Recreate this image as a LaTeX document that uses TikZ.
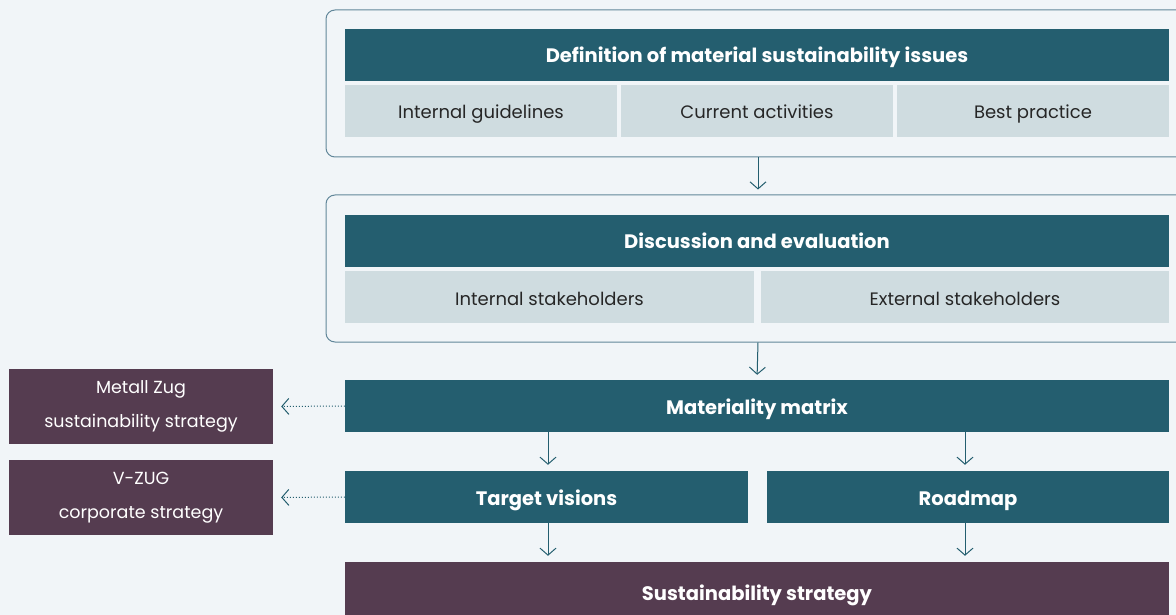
\documentclass[tikz,border=0pt]{standalone}
\usepackage{fontspec}
\setmainfont{Poppins}
\usetikzlibrary{arrows.meta}

\definecolor{bgpage}{HTML}{F1F5F8}
\definecolor{teal}{HTML}{245E6F}
\definecolor{cellgrey}{HTML}{CFDCE0}
\definecolor{plum}{HTML}{553C50}
\definecolor{framecol}{HTML}{62879A}

\begin{document}
\begin{tikzpicture}[x=1pt, y=-1pt,
  every node/.style={align=center, inner sep=0pt},
  headbox/.style={fill=teal, text=white, font=\fontsize{19.5}{23}\selectfont\bfseries, minimum height=52pt, text height=16pt, text depth=0pt},
  cellbox/.style={fill=cellgrey, text=black!85, font=\fontsize{18}{22}\selectfont, minimum height=52pt, text height=16pt, text depth=0pt},
  sidebox/.style={fill=plum, text=white, font=\fontsize{17.5}{34}\selectfont, minimum width=264pt, minimum height=75pt},
  framebox/.style={draw=framecol, line width=1pt, rounded corners=9pt, minimum width=864pt, minimum height=147pt},
  arr/.style={draw=teal, line width=1pt, -{Straight Barb[length=7pt, width=16pt]}},
  dotarr/.style={arr, dotted}]

  % --- Hintergrund ---
  \fill[bgpage] (0,0) rectangle (1176,615);
  \useasboundingbox (0,0) rectangle (1176,615);
  \clip (0,0) rectangle (1176,615);

  % --- Block 1: Definition ---
  \node[framebox] (frameA) at (758,83.5) {};
  \node[headbox, minimum width=824pt] (defhead) at (757,55) {Definition of material sustainability issues};
  \node[cellbox, minimum width=272pt] (guide) at (481,111) {Internal guidelines};
  \node[cellbox, minimum width=272pt] (activ) at (757,111) {Current activities};
  \node[cellbox, minimum width=272pt] (best)  at (1033,111) {Best practice};

  % --- Block 2: Diskussion ---
  \node[framebox] (frameB) at (758,268.5) {};
  \node[headbox, minimum width=824pt] (dischead) at (757,240.5) {Discussion and evaluation};
  \node[cellbox, minimum width=409pt] (intstake) at (549.5,297) {Internal stakeholders};
  \node[cellbox, minimum width=408pt] (extstake) at (965,297) {External stakeholders};

  % --- Matrix, Ziele, Strategie ---
  \node[headbox, minimum width=824pt] (matrix) at (757,406) {Materiality matrix};
  \node[headbox, minimum width=403pt] (target) at (546.5,497) {Target visions};
  \node[headbox, minimum width=402pt] (roadmap) at (968,497) {Roadmap};
  \node[headbox, fill=plum, minimum width=824pt, minimum height=60pt] (strategy) at (757,592) {Sustainability strategy};

  % --- Seitliche Strategien ---
  \node[sidebox] (metall) at (141,406.5) {Metall Zug\\sustainability strategy};
  \node[sidebox] (vzug) at (141,497.5) {V-ZUG\\corporate strategy};

  % --- Pfeile ---
  \draw[arr, shorten >=5pt] (frameA.south) -- (frameB.north);
  \draw[arr, shorten >=5pt] (frameB.south) -- (matrix.north);
  \draw[arr, shorten >=6pt] ([xshift=1.5pt]target.north |- matrix.south) -- ([xshift=1.5pt]target.north);
  \draw[arr, shorten >=6pt] ([xshift=-3pt]roadmap.north |- matrix.south) -- ([xshift=-3pt]roadmap.north);
  \draw[arr, shorten >=6pt] ([xshift=1.5pt]target.south) -- ([xshift=1.5pt]target.south |- strategy.north);
  \draw[arr, shorten >=6pt] ([xshift=-3pt]roadmap.south) -- ([xshift=-3pt]roadmap.south |- strategy.north);

  % --- gepunktete Pfeile nach links ---
  \draw[dotarr, shorten >=8pt] (matrix.west) -- (metall.east);
  \draw[dotarr, shorten >=8pt] (target.west) -- (vzug.east);

\end{tikzpicture}
\end{document}
